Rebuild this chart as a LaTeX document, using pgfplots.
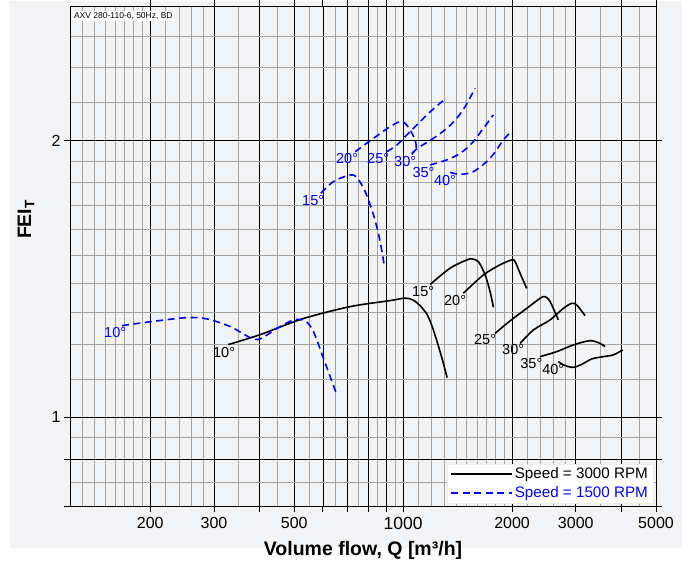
\documentclass[border=0pt]{standalone}
\usepackage{fontspec}
\setmainfont{Liberation Sans}
\usepackage{pgfplots}
\pgfplotsset{compat=1.18}
\definecolor{bg}{HTML}{F2F3F5}
\definecolor{mgrid}{HTML}{A3A3A3}
\newcommand{\dl}{\fontsize{14.5bp}{16bp}\selectfont}
\begin{document}
\begin{tikzpicture}[x=1bp,y=1bp]
\fill[white] (0,0) rectangle (682,562);
\fill[bg] (10,15) rectangle (682,562);
\begin{axis}[
  at={(70bp,57bp)}, anchor=south west,
  scale only axis, width=586bp, height=500bp,
  xmode=log, ymode=log,
  xmin=120, xmax=5000, ymin=0.8, ymax=2.8,
  xtick={200,300,400,500,600,700,800,900,1000,2000,3000,4000,5000},
  xticklabels={200,300,,500,,,,,{\fontsize{17.5bp}{19bp}\selectfont\raisebox{-2.5bp}{1000}},2000,3000,,5000},
  minor xtick={130,140,150,160,170,180,190,220,240,260,280,350,450,550,650,750,850,950,1100,1200,1300,1400,1500,1600,1700,1800,1900,2200,2400,2600,2800,3500,4500},
  ytick={0.8,0.9,1,2},
  yticklabels={,,1,2},
  minor ytick={0.85,0.95,1.1,1.2,1.3,1.4,1.5,1.6,1.7,1.8,1.9,2.2,2.4,2.6},
  grid=both,
  major grid style={black, line width=0.6bp},
  minor grid style={mgrid, line width=0.8bp},
  tick align=outside,
  major tick length=6bp,
  minor tick length=0bp,
  tick style={black, line width=0.8bp},
  axis line style={black, line width=0.9bp},
  /pgf/number format/assume math mode=true,
  ticklabel style={font=\fontsize{16bp}{18bp}\selectfont},
  xticklabel style={yshift=-1bp},
  xlabel={\textbf{Volume flow, Q [m³/h]}},
  ylabel={\textbf{FEI\textsubscript{T}}},
  label style={font=\fontsize{19.5bp}{21bp}\selectfont},
  xlabel style={at={(axis description cs:0.5,-0.088)}, anchor=center},
  ylabel style={at={(axis description cs:-0.075,0.574)}, anchor=center},
  legend style={at={(rel axis cs:0.995,0.006)}, anchor=south east,
    fill=white, draw=gray!15, font=\fontsize{15.2bp}{17bp}\selectfont,
    cells={anchor=west}, row sep=2.5bp, inner xsep=3bp, inner ysep=2bp},
  legend image code/.code={\draw[#1] (0bp,0bp) -- (61bp,0bp);},
]
\addlegendimage{black, solid, line width=1.6bp}
\addlegendentry{Speed = 3000 RPM}
\addlegendimage{blue, line width=1.6bp, dash pattern=on 7bp off 4.5bp}
\addlegendentry{\textcolor{blue}{Speed = 1500 RPM}}

% 3000 RPM (black)
\addplot[black, line width=1.6bp, smooth, tension=0.5, forget plot] coordinates {
(328.6,1.2000) (402.7,1.2303) (529.3,1.2806) (713.9,1.3197) (920.6,1.3397) (1012.8,1.3481) (1065.6,1.3414) (1114,1.3228) (1165,1.2934) (1203,1.2552) (1241,1.2088) (1281,1.1586) (1323,1.1046)};
\addplot[black, line width=1.6bp, smooth, tension=0.5, forget plot] coordinates {
(1187.5,1.3950) (1348.6,1.4532) (1499.6,1.4835) (1548,1.4872) (1614.7,1.4771) (1684.9,1.4288) (1739.4,1.3697) (1776.3,1.3174)};
\addplot[black, line width=1.6bp, smooth, tension=0.5, forget plot] coordinates {
(1467.5,1.3648) (1667,1.4288) (1853.5,1.4655) (1997.2,1.4835) (2039.5,1.4771) (2105,1.4344) (2196,1.3812)};
\addplot[black, line width=1.6bp, smooth, tension=0.5, forget plot] coordinates {
(1795.6,1.2341) (1975,1.2733) (2196,1.3139) (2390,1.3474) (2468,1.3531) (2547.6,1.3364) (2685,1.2764)};
\addplot[black, line width=1.6bp, smooth, tension=0.5, forget plot] coordinates {
(2105,1.2036) (2291,1.2447) (2547.6,1.2764) (2772,1.3139) (2924,1.3305) (3018,1.3253) (3183,1.2900)};
\addplot[black, line width=1.6bp, smooth, tension=0.5, forget plot] coordinates {
(2390,1.1642) (2658,1.1789) (2954,1.1989) (3286,1.2117) (3501,1.2036) (3614,1.1938)};
\addplot[black, line width=1.6bp, smooth, tension=0.5, forget plot] coordinates {
(2685,1.1497) (2803,1.1384) (2954,1.1335) (3117,1.1420) (3322,1.1575) (3575,1.1642) (3810,1.1693) (4045,1.1838)};

% 1500 RPM (blue dashed)
\addplot[blue, line width=1.6bp, dash pattern=on 7bp off 4.5bp, smooth, tension=0.5, forget plot] coordinates {
(167.1,1.2584) (208.7,1.2733) (252.7,1.2838) (286.9,1.2797) (332.8,1.2552) (377.9,1.2209) (402.7,1.2171) (447.9,1.2497) (497.7,1.2764) (536.1,1.2733) (565.2,1.2397) (602.2,1.1593) (655.8,1.0577)};
\addplot[blue, line width=1.6bp, dash pattern=on 7bp off 4.5bp, smooth, tension=0.5, forget plot] coordinates {
(592.4,1.7532) (642,1.8055) (713.9,1.8360) (745.1,1.8234) (785.3,1.7608) (827.9,1.6608) (860.2,1.5658) (887.9,1.4588)};
\addplot[blue, line width=1.6bp, dash pattern=on 7bp off 4.5bp, smooth, tension=0.5, forget plot] coordinates {
(737,1.9458) (827.9,2.0118) (920.6,2.0717) (981.1,2.0980) (1012.8,2.0890) (1045,2.0546) (1079,2.0035) (1086,1.9620) (1057,1.9327)};
\addplot[blue, line width=1.6bp, dash pattern=on 7bp off 4.5bp, smooth, tension=0.5, forget plot] coordinates {
(901.6,1.9458) (961,1.9787) (1045,2.0461) (1138,2.1154) (1212.5,2.1658) (1292,2.2111) (1320.5,2.2150)};
\addplot[blue, line width=1.6bp, dash pattern=on 7bp off 4.5bp, smooth, tension=0.5, forget plot] coordinates {
(1057,1.9375) (1102.2,1.9655) (1212.5,2.0118) (1320.5,2.0630) (1407,2.1154) (1483.5,2.1782) (1580.7,2.2803)};
\addplot[blue, line width=1.6bp, dash pattern=on 7bp off 4.5bp, smooth, tension=0.5, forget plot] coordinates {
(1187.5,1.8824) (1320.5,1.9063) (1437,1.9375) (1548,1.9870) (1667,2.0630) (1776,2.1334)};
\addplot[blue, line width=1.6bp, dash pattern=on 7bp off 4.5bp, smooth, tension=0.5, forget plot] coordinates {
(1348.6,1.8476) (1437,1.8385) (1564,1.8510) (1739.4,1.9139) (1893,2.0035) (1997,2.0496)};

% angle labels
\node[black, font=\dl] at (axis cs:320,1.176) {10°};
\node[black, font=\dl] at (axis cs:1136,1.370) {15°};
\node[black, font=\dl] at (axis cs:1392,1.340) {20°};
\node[black, font=\dl] at (axis cs:1685,1.215) {25°};
\node[black, font=\dl] at (axis cs:2014,1.185) {30°};
\node[black, font=\dl] at (axis cs:2262,1.143) {35°};
\node[black, font=\dl] at (axis cs:2600,1.128) {40°};
\node[blue, font=\dl] at (axis cs:160,1.236) {10°};
\node[blue, font=\dl] at (axis cs:564,1.721) {15°};
\node[blue, font=\dl] at (axis cs:700,1.912) {20°};
\node[blue, font=\dl] at (axis cs:853,1.912) {25°};
\node[blue, font=\dl] at (axis cs:1013,1.897) {30°};
\node[blue, font=\dl] at (axis cs:1138,1.845) {35°};
\node[blue, font=\dl] at (axis cs:1305,1.811) {40°};

\node[anchor=north west, fill=white, inner sep=1.5bp, font=\fontsize{8.5bp}{10bp}\selectfont] at (rel axis cs:0.004,0.991) {AXV 280-110-6, 50Hz, BD};
\end{axis}
\end{tikzpicture}
\end{document}
